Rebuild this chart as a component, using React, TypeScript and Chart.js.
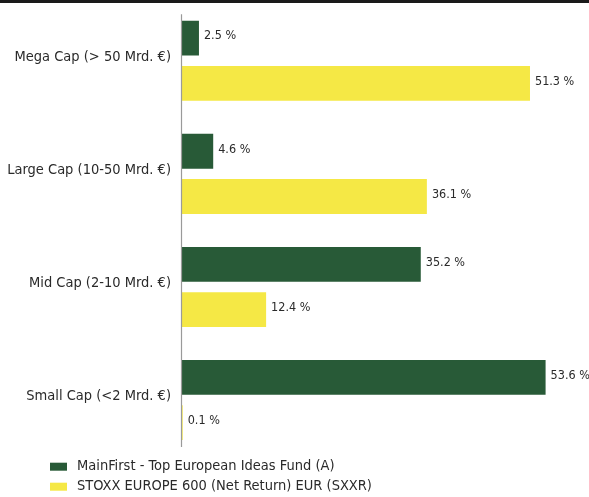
import React, { useEffect, useRef } from "react";
import { Chart, registerables } from "chart.js";

Chart.register(...registerables);

const categories = [
  "Mega Cap (> 50 Mrd. €)",
  "Large Cap (10-50 Mrd. €)",
  "Mid Cap (2-10 Mrd. €)",
  "Small Cap (<2 Mrd. €)",
];
const fundLabel = "MainFirst - Top European Ideas Fund (A)";
const fundValues = [2.5, 4.6, 35.2, 53.6];
const indexLabel = "STOXX EUROPE 600 (Net Return) EUR (SXXR)";
const indexValues = [51.3, 36.1, 12.4, 0.1];

const GREEN = "#285a37";
const YELLOW = "#f5e845";
const FONT = "'DejaVu Sans Condensed', sans-serif";

const decorPlugin = {
  id: "decor",
  afterDraw(chart: any) {
    const ctx = chart.ctx;
    const area = chart.chartArea;
    const x0 = chart.scales.x.getPixelForValue(0);
    ctx.save();
    // top rule
    ctx.fillStyle = "#1a1a1a";
    ctx.fillRect(0, 0, chart.width, 3);
    // axis line
    ctx.strokeStyle = "#9a9a9a";
    ctx.lineWidth = 1.2;
    ctx.beginPath();
    ctx.moveTo(x0 - 0.5, area.top + 10);
    ctx.lineTo(x0 - 0.5, area.bottom - 9.5);
    ctx.stroke();
    // value labels
    ctx.font = "12.5px " + FONT;
    ctx.fillStyle = "#2a2a2a";
    ctx.textBaseline = "middle";
    ctx.textAlign = "left";
    chart.data.datasets.forEach((ds: any, di: number) => {
      const meta = chart.getDatasetMeta(di);
      meta.data.forEach((el: any, i: number) => {
        const v = ds.data[i];
        ctx.fillText(v.toFixed(1) + " %", el.x + 5, el.y - 2);
      });
    });
    // legend
    ctx.font = "14.5px " + FONT;
    chart.data.datasets.forEach((ds: any, di: number) => {
      const cy = 466.7 + di * 20;
      ctx.fillStyle = ds.backgroundColor;
      ctx.fillRect(50, cy - 4, 17, 8);
      ctx.fillStyle = "#2a2a2a";
      ctx.fillText(ds.label, 77, cy);
    });
    ctx.restore();
  },
};

export default function App() {
  const ref = useRef<HTMLCanvasElement>(null);
  useEffect(() => {
    const chart = new Chart(ref.current as HTMLCanvasElement, {
      type: "bar",
      data: {
        labels: categories,
        datasets: [
          { label: fundLabel, data: fundValues, backgroundColor: GREEN, categoryPercentage: 0.8, barPercentage: 0.77 },
          { label: indexLabel, data: indexValues, backgroundColor: YELLOW, categoryPercentage: 0.8, barPercentage: 0.77 },
        ],
      },
      options: {
        animation: false,
        responsive: false,
        maintainAspectRatio: false,
        indexAxis: "y",
        layout: { padding: { top: 4.3, bottom: 40.5, left: 0, right: 0 } },
        plugins: { legend: { display: false }, tooltip: { enabled: false } },
        scales: {
          x: { min: 0, max: 60, display: false },
          y: {
            grid: { display: false, drawTicks: false },
            border: { display: false },
            ticks: { color: "#2a2a2a", font: { family: FONT, size: 14.5 }, padding: 11, labelOffset: -3.5 },
            afterFit(scale: any) {
              scale.width = 182;
              scale.paddingTop = 0;
              scale.paddingBottom = 0;
            },
          },
        },
      },
      plugins: [decorPlugin],
    } as any);
    return () => chart.destroy();
  }, []);
  return (
    <div style={{ position: "absolute", left: 0, top: 0, width: 589, height: 497, background: "#fff" }}>
      <canvas ref={ref} width={589} height={497} />
    </div>
  );
}
